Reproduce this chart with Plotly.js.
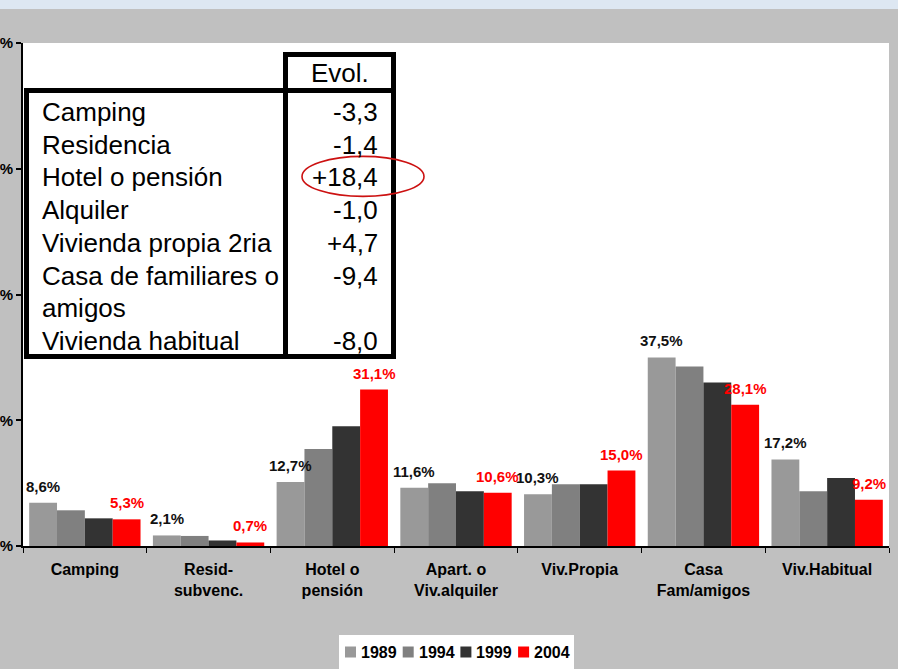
<!DOCTYPE html>
<html>
<head>
<meta charset="utf-8">
<script src="https://cdn.plot.ly/plotly-3.0.1.min.js"></script>
<style>
  html, body { margin: 0; padding: 0; background: #c0c0c0; }
  #chart { width: 898px; height: 669px; }
</style>
</head>
<body>
<div id="chart"></div>
<script>
// ------------------- data ----------------------
var categories = ['Camping', 'Resid-<br>subvenc.', 'Hotel o<br>pensión', 'Apart. o<br>Viv.alquiler',
	'Viv.Propia', 'Casa<br>Fam/amigos', 'Viv.Habitual'];
var years = ['1989', '1994', '1999', '2004'];
var colors = ['#999999', '#808080', '#333333', '#ff0000'];
var v1989 = [8.6, 2.1, 12.7, 11.6, 10.3, 37.5, 17.2];
var v1994 = [7.1, 2.0, 19.3, 12.5, 12.3, 35.7, 10.9];
var v1999 = [5.5, 1.1, 23.8, 10.9, 12.3, 32.5, 13.5];
var v2004 = [5.3, 0.7, 31.1, 10.6, 15.0, 28.1, 9.2];
var yTicks = [0, 25, 50, 75, 100];
var yTickText = ['0%', '25%', '50%', '75%', '100%'];

// evolution table (left box)
var tableHeader = 'Evol.';
var tableRows = [['Camping'], ['Residencia'], ['Hotel o pensión'], ['Alquiler'],
	['Vivienda propia 2ria'], ['Casa de familiares o', 'amigos'], ['Vivienda habitual']];
var tableEvol = ['-3,3', '-1,4', '+18,4', '-1,0', '+4,7', '-9,4', '-8,0'];
var circledRow = 2;

// ------------------- helpers ----------------------
var FONT = 'Liberation Sans, Arial, sans-serif';
var L = 23, R = 889, T = 43, B = 546; // plot box in pixels
function px(X) { return (X - L) / (R - L); }
function py(Y) { return (B - Y) / (B - T); }
function fmt(v) { return v.toFixed(1).replace('.', ',') + '%'; }

// ------------------- traces ----------------------
var series = [v1989, v1994, v1999, v2004];
var traces = [];
for (var i = 0; i < series.length; i++) {
	traces.push({
		type: 'bar',
		name: years[i],
		x: categories,
		y: series[i],
		marker: {color: colors[i], line: {width: 0}},
		hoverinfo: 'none'
	});
}

// ------------------- annotations ----------------------
var annotations = [];
var barW = 0.9 / 4;
function addLabels(vals, idx, color) {
	var off = -0.45 + barW * (idx + 0.5);
	for (var k = 0; k < vals.length; k++) {
		annotations.push({
			x: k + off, y: vals[k], xref: 'x', yref: 'y',
			text: fmt(vals[k]), showarrow: false,
			yanchor: 'bottom', yshift: 6,
			font: {family: FONT, size: 15, weight: 'bold', color: color}
		});
	}
}
addLabels(v1989, 0, '#111111');
addLabels(v2004, 3, '#ff0000');

// table text
var lineY = 112, linePitch = 32.7, line = 0;
annotations.push({
	x: px(339.5), y: py(73), xref: 'paper', yref: 'paper', text: tableHeader,
	showarrow: false, xanchor: 'center', yanchor: 'middle',
	font: {family: FONT, size: 26, color: '#000'}
});
for (var r = 0; r < tableRows.length; r++) {
	var yy = lineY + line * linePitch;
	annotations.push({
		x: px(380), y: py(yy), xref: 'paper', yref: 'paper', text: tableEvol[r],
		showarrow: false, xanchor: 'right', yanchor: 'middle',
		font: {family: FONT, size: 26, color: '#000'}
	});
	for (var j = 0; j < tableRows[r].length; j++) {
		annotations.push({
			x: px(40), y: py(lineY + line * linePitch), xref: 'paper', yref: 'paper',
			text: tableRows[r][j], showarrow: false, xanchor: 'left', yanchor: 'middle',
			font: {family: FONT, size: 26, color: '#000'}
		});
		line += 1;
	}
}

// legend (custom, compact)
var shapes = [];
var legX = 345, legPitch = 57.7, legY = 652;
shapes.push({type: 'rect', xref: 'paper', yref: 'paper', x0: px(339), x1: px(574), y0: py(635), y1: py(672),
	fillcolor: '#ffffff', line: {width: 0}});
for (var n = 0; n < years.length; n++) {
	var sx = legX + n * legPitch;
	shapes.push({type: 'rect', xref: 'paper', yref: 'paper', x0: px(sx), x1: px(sx + 11),
		y0: py(legY - 5.5), y1: py(legY + 5.5), fillcolor: colors[n], line: {width: 0}});
	annotations.push({
		x: px(sx + 14), y: py(legY), xref: 'paper', yref: 'paper', text: years[n],
		showarrow: false, xanchor: 'left', yanchor: 'middle',
		font: {family: FONT, size: 16, weight: 'bold', color: '#000'}
	});
}

// top light strip
shapes.push({type: 'rect', xref: 'paper', yref: 'paper', x0: px(0), x1: px(898), y0: py(0), y1: py(9),
	fillcolor: '#dde7f2', line: {width: 0}});

// table boxes
var boxLine = {color: '#000000', width: 5};
shapes.push({type: 'rect', xref: 'paper', yref: 'paper', x0: px(26.5), x1: px(393.5), y0: py(90.5), y1: py(356.5),
	fillcolor: '#ffffff', line: boxLine, layer: 'above'});
shapes.push({type: 'rect', xref: 'paper', yref: 'paper', x0: px(285.5), x1: px(393.5), y0: py(54.5), y1: py(90.5),
	fillcolor: '#ffffff', line: boxLine});
shapes.push({type: 'line', xref: 'paper', yref: 'paper', x0: px(285.5), x1: px(285.5), y0: py(90.5), y1: py(356.5),
	line: boxLine});

// red circle around the highlighted value
var cy = lineY + circledRow * linePitch;
shapes.push({type: 'circle', xref: 'paper', yref: 'paper', x0: px(302), x1: px(424), y0: py(cy - 21), y1: py(cy + 19),
	line: {color: '#cc1111', width: 1.6}});

// ------------------- layout ----------------------
var layout = {
	width: 898, height: 669,
	margin: {l: L, r: 898 - R, t: T, b: 669 - B, pad: 0},
	paper_bgcolor: '#c0c0c0',
	plot_bgcolor: '#ffffff',
	barmode: 'group',
	bargap: 0.1,
	bargroupgap: 0,
	showlegend: false,
	font: {family: FONT, color: '#000'},
	xaxis: {
		type: 'category',
		showline: true, linecolor: '#000', linewidth: 2,
		ticks: 'outside', tickson: 'boundaries', ticklen: 5, tickwidth: 1, tickcolor: '#000',
		ticklabelstandoff: 8,
		tickfont: {family: FONT, size: 16, weight: 'bold', color: '#000'},
		showgrid: false, zeroline: false, fixedrange: true
	},
	yaxis: {
		range: [0, 100],
		tickmode: 'array', tickvals: yTicks, ticktext: yTickText,
		showline: true, linecolor: '#000', linewidth: 2,
		ticks: 'outside', ticklen: 5, tickwidth: 2, tickcolor: '#000',
		tickfont: {family: FONT, size: 15, weight: 'bold', color: '#000'},
		showgrid: false, zeroline: false, fixedrange: true
	},
	shapes: shapes,
	annotations: annotations
};

Plotly.newPlot('chart', traces, layout, {displayModeBar: false, staticPlot: true});
</script>
</body>
</html>
